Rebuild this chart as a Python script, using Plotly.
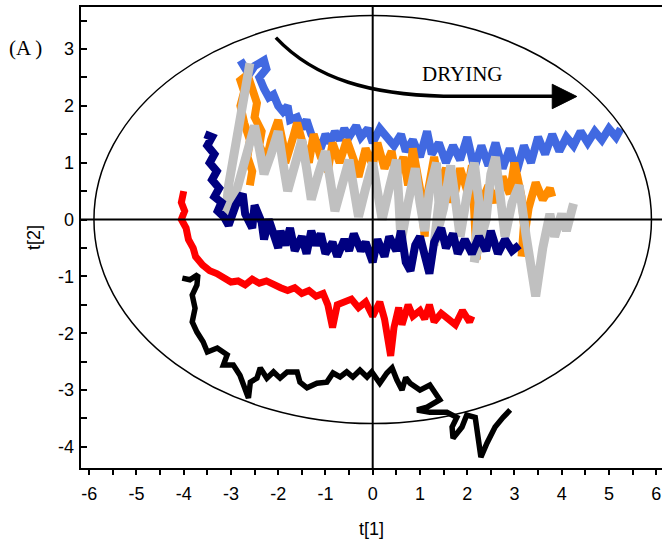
import plotly.graph_objects as go

# ---- data (t[1], t[2] score trajectories) ----
blue_x = [-2.8,-2.7,-2.62,-2.5,-2.3,-2.25,-2.4,-2.3,-2.2,-2.1,-2.0,-1.9,-1.8,-1.75,-1.6,-1.5,-1.4,-1.3,-1.2,-1.1,-1.0,-0.9,-0.8,-0.7,-0.6,-0.5,-0.35,-0.25,-0.1,0.0,0.15,0.3,0.45,0.6,0.7,0.85,1.0,1.15,1.25,1.4,1.55,1.7,1.85,2.0,2.15,2.3,2.45,2.6,2.75,2.9,3.05,3.2,3.35,3.5,3.65,3.8,3.95,4.1,4.25,4.4,4.55,4.7,4.85,5.0,5.15,5.25]
blue_y = [2.8,2.65,2.55,2.7,2.8,2.65,2.5,2.3,2.15,2.2,2.0,1.9,2.0,1.75,1.8,1.6,1.75,1.5,1.35,1.25,1.5,1.35,1.55,1.4,1.6,1.45,1.65,1.45,1.6,1.35,1.6,1.45,1.3,1.5,1.2,1.4,1.1,1.55,1.15,1.35,1.0,1.3,1.05,1.45,0.9,1.3,0.95,1.35,0.9,1.25,0.85,1.3,1.0,1.45,1.15,1.5,1.2,1.45,1.3,1.55,1.35,1.55,1.4,1.6,1.45,1.6]

orange_x = [-2.6,-2.55,-2.65,-2.6,-2.72,-2.8,-2.72,-2.8,-2.65,-2.55,-2.45,-2.5,-2.35,-2.4,-2.25,-2.15,-2.0,-1.9,-1.85,-1.7,-1.6,-1.45,-1.35,-1.25,-1.1,-0.95,-0.85,-0.7,-0.55,-0.4,-0.3,-0.15,0.0,0.1,0.25,0.4,0.5,0.65,0.75,0.85,1.0,1.1,1.15,1.3,1.4,1.55,1.7,1.85,2.0,2.1,2.2,2.3,2.45,2.6,2.75,2.9,3.0,3.15,3.2,3.15,3.3,3.45,3.6,3.75,3.8]
orange_y = [0.6,0.85,1.1,1.4,1.7,2.0,2.25,2.45,2.55,2.3,2.05,1.8,1.55,1.3,1.05,1.4,1.75,1.35,1.0,1.4,1.7,1.25,1.0,1.5,1.1,0.85,1.35,1.0,1.4,1.05,0.75,1.25,0.95,1.35,0.9,1.2,0.75,1.1,0.6,1.25,0.55,-0.3,0.4,1.1,0.6,0.9,0.3,0.9,0.5,0.95,-0.7,0.3,0.6,0.3,0.75,0.45,1.0,0.4,-0.1,-0.65,0.2,0.65,0.35,0.55,0.4]

gray_x = [-2.6,-2.68,-2.75,-2.85,-2.95,-3.05,-3.1,-3.05,-2.9,-2.75,-2.6,-2.5,-2.4,-2.3,-2.15,-2.0,-1.9,-1.8,-1.65,-1.5,-1.4,-1.3,-1.15,-1.0,-0.9,-0.8,-0.65,-0.5,-0.4,-0.3,-0.15,0.0,0.1,0.2,0.35,0.5,0.55,0.6,0.75,0.9,1.0,1.1,1.2,1.35,1.4,1.3,1.5,1.65,1.75,1.85,2.0,2.15,2.25,2.15,2.4,2.5,2.6,2.7,2.8,2.95,3.1,3.25,3.45,3.6,3.75,3.85,4.0,4.1,4.25]
gray_y = [2.75,2.4,2.0,1.6,1.1,0.6,0.2,0.05,0.45,0.9,1.3,1.65,1.25,0.8,1.15,1.55,1.0,0.5,0.95,1.4,0.9,0.35,0.8,1.2,0.7,0.15,0.6,1.05,0.55,0.05,0.55,1.0,0.5,0.0,0.55,1.05,0.4,-0.4,0.3,0.9,0.3,-0.2,0.5,1.0,0.3,-0.45,0.2,0.95,0.35,-0.3,0.45,1.0,0.3,-0.75,0.0,0.8,1.1,0.4,-0.3,0.3,0.6,-0.3,-1.35,-0.5,0.1,-0.3,0.1,-0.2,0.28]

navy_x = [-3.55,-3.4,-3.5,-3.35,-3.45,-3.3,-3.4,-3.25,-3.35,-3.2,-3.28,-3.15,-3.05,-2.9,-2.75,-2.7,-2.55,-2.5,-2.35,-2.3,-2.2,-2.1,-2.0,-1.95,-1.85,-1.75,-1.65,-1.5,-1.4,-1.3,-1.2,-1.1,-1.0,-0.85,-0.75,-0.6,-0.5,-0.4,-0.25,-0.15,0.0,0.1,0.25,0.35,0.5,0.6,0.7,0.8,0.9,1.0,1.1,1.2,1.3,1.45,1.55,1.7,1.8,1.95,2.1,2.25,2.4,2.5,2.65,2.8,2.95,3.1]
navy_y = [1.5,1.45,1.3,1.15,1.0,0.85,0.7,0.55,0.4,0.3,0.15,0.05,-0.1,0.25,0.45,0.1,-0.15,0.25,-0.05,-0.35,0.0,-0.3,-0.5,-0.2,-0.45,-0.15,-0.55,-0.3,-0.6,-0.2,-0.45,-0.25,-0.6,-0.4,-0.65,-0.35,-0.55,-0.25,-0.55,-0.4,-0.75,-0.35,-0.65,-0.3,-0.55,-0.2,-0.75,-0.9,-0.45,-0.3,-0.7,-0.95,-0.4,-0.15,-0.5,-0.25,-0.6,-0.35,-0.6,-0.3,-0.55,-0.2,-0.6,-0.35,-0.55,-0.45]

red_x = [-4.0,-4.05,-3.98,-4.05,-3.95,-3.9,-3.8,-3.75,-3.6,-3.45,-3.3,-3.15,-3.0,-2.85,-2.7,-2.55,-2.4,-2.25,-2.1,-1.95,-1.8,-1.65,-1.5,-1.35,-1.2,-1.05,-0.95,-0.85,-0.75,-0.6,-0.45,-0.3,-0.15,0.0,0.15,0.25,0.32,0.38,0.45,0.55,0.62,0.75,0.85,1.0,1.1,1.2,1.3,1.45,1.6,1.75,1.9,2.05,2.1]
red_y = [0.5,0.3,0.15,0.0,-0.15,-0.35,-0.5,-0.65,-0.8,-0.9,-0.95,-1.02,-1.1,-1.08,-1.15,-1.05,-1.12,-1.08,-1.15,-1.2,-1.25,-1.2,-1.3,-1.25,-1.35,-1.3,-1.5,-1.9,-1.5,-1.45,-1.4,-1.55,-1.45,-1.7,-1.45,-1.75,-2.1,-2.4,-1.9,-1.55,-1.85,-1.5,-1.7,-1.6,-1.75,-1.5,-1.8,-1.65,-1.75,-1.85,-1.6,-1.8,-1.7]

black_x = [-4.03,-3.87,-3.7,-3.72,-3.82,-3.76,-3.82,-3.72,-3.59,-3.5,-3.29,-3.08,-3.16,-2.95,-2.81,-2.66,-2.63,-2.59,-2.45,-2.38,-2.24,-2.1,-1.96,-1.81,-1.6,-1.54,-1.39,-1.18,-0.97,-0.84,-0.69,-0.55,-0.42,-0.27,-0.12,-0.02,0.15,0.3,0.41,0.51,0.62,0.7,0.79,1.0,1.21,1.42,1.15,0.94,1.21,1.57,1.78,1.68,1.7,1.89,1.99,2.17,2.23,2.29,2.42,2.59,2.76,2.91]
black_y = [-1.03,-1.06,-0.97,-1.15,-1.33,-1.56,-1.8,-1.98,-2.15,-2.33,-2.26,-2.38,-2.56,-2.56,-2.74,-3.03,-3.14,-2.86,-2.79,-2.61,-2.79,-2.68,-2.79,-2.68,-2.68,-2.86,-2.96,-2.88,-2.86,-2.7,-2.77,-2.68,-2.77,-2.65,-2.77,-2.68,-2.88,-2.7,-2.61,-2.82,-3.0,-2.78,-2.88,-3.0,-2.91,-3.17,-3.3,-3.35,-3.39,-3.39,-3.48,-3.65,-3.85,-3.65,-3.44,-3.48,-3.83,-4.18,-3.93,-3.65,-3.48,-3.35]

x_ticks = [-6, -5, -4, -3, -2, -1, 0, 1, 2, 3, 4, 5, 6]
y_ticks = [-4, -3, -2, -1, 0, 1, 2, 3]
ellipse_rx, ellipse_ry = 5.9, 3.59

series = [
    (blue_x, blue_y, "#4169E1", 8),
    (orange_x, orange_y, "#FF8C00", 8),
    (gray_x, gray_y, "#C0C0C0", 9),
    (navy_x, navy_y, "#000080", 8),
    (red_x, red_y, "#FF0000", 7),
    (black_x, black_y, "#000000", 5.5),
]

fig = go.Figure()
for xs, ys, col, w in series:
    fig.add_trace(go.Scatter(x=xs, y=ys, mode="lines",
                             line=dict(color=col, width=w), showlegend=False,
                             hoverinfo="skip"))

shapes = [
    dict(type="circle", xref="x", yref="y", x0=-ellipse_rx, x1=ellipse_rx,
         y0=-ellipse_ry, y1=ellipse_ry, line=dict(color="black", width=1.5)),
    dict(type="line", xref="x", yref="paper", x0=0, x1=0, y0=0, y1=1,
         line=dict(color="black", width=2)),
    dict(type="line", xref="paper", yref="y", x0=0, x1=1, y0=0, y1=0,
         line=dict(color="black", width=2)),
    dict(type="path", xref="x", yref="y",
         path="M -2.05,3.2 C -1.2,2.45 0.0,2.2 1.5,2.17 L 3.82,2.17",
         line=dict(color="black", width=3.5)),
    dict(type="path", xref="x", yref="y",
         path="M 3.8,2.38 L 4.32,2.165 L 3.8,1.95 Z",
         fillcolor="black", line=dict(color="black", width=1)),
]

axis_font = dict(family="Liberation Sans, Arial, sans-serif", size=18, color="black")
serif = "Liberation Serif, Times New Roman, serif"
y_range = [-4.371, 3.739]

fig.update_layout(
    width=662, height=544,
    margin=dict(l=81, r=0, t=7, b=76),
    paper_bgcolor="white", plot_bgcolor="white",
    shapes=shapes,
    font=axis_font,
    annotations=[
        dict(text="DRYING", x=1.91, y=2.56, xref="x", yref="y", showarrow=False,
             font=dict(family=serif, size=21, color="black")),
        dict(text="(A )", x=(25 - 81) / 581, y=(468 - 48) / 461,
             xref="paper", yref="paper", xanchor="center", yanchor="middle",
             showarrow=False, font=dict(family=serif, size=21, color="black")),
    ],
    xaxis=dict(range=[-6.174, 6.123], tickmode="array", tickvals=x_ticks,
               ticktext=[str(v) for v in x_ticks],
               ticks="outside", ticklen=5, tickwidth=2, tickcolor="black",
               minor=dict(ticks="outside", dtick=0.5, tick0=0, ticklen=5, tickwidth=2,
                          tickcolor="black", showgrid=False),
               showline=True, linewidth=2, linecolor="black", mirror=True,
               showgrid=False, zeroline=False, automargin=False,
               ticklabelstandoff=3,
               title=dict(text="t[1]", font=axis_font, standoff=20)),
    # main y axis: line and inside tick marks, no labels
    yaxis=dict(range=y_range, tickmode="array", tickvals=y_ticks,
               ticks="inside", ticklen=6, tickwidth=2, tickcolor="black",
               minor=dict(ticks="inside", dtick=0.5, tick0=0, ticklen=6, tickwidth=2,
                          tickcolor="black", showgrid=False),
               showticklabels=False,
               showline=True, linewidth=2, linecolor="black",
               showgrid=False, zeroline=False, automargin=False),
    # overlay y axis: labels and title only
    yaxis2=dict(range=y_range, overlaying="y", side="left", tickmode="array",
                tickvals=y_ticks, ticktext=[str(v) for v in y_ticks],
                ticks="", showline=False, showgrid=False, zeroline=False,
                automargin=False, ticklabelstandoff=6,
                title=dict(text="t[2]", font=axis_font, standoff=12)),
)
# invisible anchor trace so the overlay axis is drawn
fig.add_trace(go.Scatter(x=[None], y=[None], yaxis="y2", showlegend=False,
                         hoverinfo="skip"))

fig.write_html("out.html", config={"displayModeBar": False},
               post_script="document.body.style.margin='0px';"
                           "document.body.style.overflow='hidden';")
